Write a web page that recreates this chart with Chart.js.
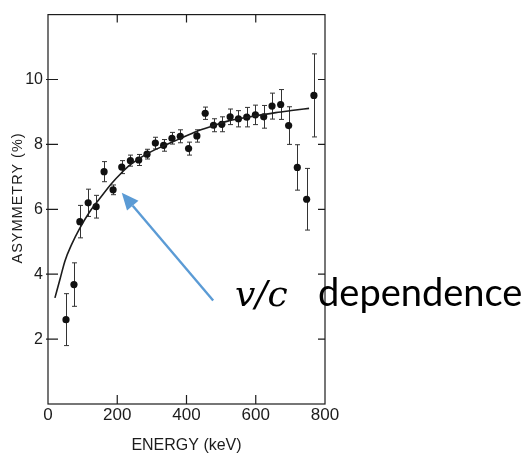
<!DOCTYPE html>
<html>
<head>
<meta charset="utf-8">
<script src="https://cdn.jsdelivr.net/npm/chart.js@4/dist/chart.umd.min.js"></script>
<style>
  html, body { margin: 0; padding: 0; background: #fff; }
  #wrap { width: 528px; height: 459px; position: relative; }
</style>
</head>
<body>
<div id="wrap"><canvas id="chart" width="528" height="459"></canvas></div>
<script>
// Measured asymmetry versus electron energy
const energy = [52, 75, 92, 116, 139, 162, 188, 213, 238, 262, 286, 310, 334, 358, 382,
                406, 430, 454, 478, 502, 526, 550, 574, 599, 623, 647, 672, 695, 720, 747, 768];
const asymmetry = [2.60, 3.68, 5.62, 6.20, 6.08, 7.16, 6.60, 7.30, 7.50, 7.52, 7.70, 8.04, 7.97, 8.19, 8.25,
                   7.87, 8.26, 8.96, 8.59, 8.62, 8.85, 8.79, 8.84, 8.91, 8.85, 9.18, 9.23, 8.58, 7.29, 6.31, 9.51];
const asymmetryErr = [0.80, 0.67, 0.50, 0.42, 0.35, 0.31, 0.15, 0.20, 0.17, 0.17, 0.15, 0.18, 0.18, 0.18, 0.20,
                      0.20, 0.19, 0.19, 0.20, 0.23, 0.24, 0.25, 0.30, 0.30, 0.35, 0.40, 0.46, 0.58, 0.70, 0.95, 1.28];

// Fitted v/c curve
const fitEnergy = [20, 35, 49, 68, 92, 121, 150, 183, 212, 236, 284, 333, 380, 429, 476, 526, 572, 658, 709, 754];
const fitAsymmetry = [3.27, 3.86, 4.41, 4.91, 5.42, 5.93, 6.34, 6.79, 7.12, 7.36, 7.70, 7.95, 8.17, 8.40, 8.57, 8.74, 8.83, 8.98, 9.05, 9.11];

// Axis ticks
const xTickValues = [0, 200, 400, 600, 800];
const yTickValues = [2, 4, 6, 8, 10];
const xInnerTicks = [200, 400, 600];

const INK = '#1c1c1c';

// Annotation anchored in data units (keV, %)
const note = {
  tip: [213, 6.51],
  tail: [477, 3.19],
  mathAt: [540, 3.03],
  wordAt: [780, 3.03],
  math: 'v/c',
  word: 'dependence',
  color: '#5b9bd5'
};

const points = energy.map((e, i) => ({ x: e, y: asymmetry[i] }));
const fitPoints = fitEnergy.map((e, i) => ({ x: e, y: fitAsymmetry[i] }));

const errorBars = {
  id: 'errorBars',
  beforeDatasetsDraw(chart) {
    const { ctx, scales: { x, y } } = chart;
    ctx.save();
    ctx.strokeStyle = '#333';
    ctx.lineWidth = 1;
    energy.forEach((e, i) => {
      const px = Math.round(x.getPixelForValue(e)) + 0.5;
      const top = y.getPixelForValue(asymmetry[i] + asymmetryErr[i]);
      const bot = y.getPixelForValue(asymmetry[i] - asymmetryErr[i]);
      ctx.beginPath();
      ctx.moveTo(px, top); ctx.lineTo(px, bot);
      ctx.moveTo(px - 2.5, top); ctx.lineTo(px + 2.5, top);
      ctx.moveTo(px - 2.5, bot); ctx.lineTo(px + 2.5, bot);
      ctx.stroke();
    });
    ctx.restore();
  }
};

const frame = {
  id: 'frame',
  afterDatasetsDraw(chart) {
    const { ctx, chartArea: a, scales: { x, y } } = chart;
    ctx.save();
    ctx.strokeStyle = INK;
    ctx.lineWidth = 1.2;
    ctx.strokeRect(a.left, a.top, a.right - a.left, a.bottom - a.top);
    ctx.beginPath();
    xInnerTicks.forEach(v => {
      const px = x.getPixelForValue(v);
      ctx.moveTo(px, a.bottom); ctx.lineTo(px, a.bottom - 9);
      ctx.moveTo(px, a.top); ctx.lineTo(px, a.top + 8);
    });
    yTickValues.forEach(v => {
      const py = y.getPixelForValue(v);
      ctx.moveTo(a.left - 2, py); ctx.lineTo(a.left + 10, py);
      ctx.moveTo(a.right, py); ctx.lineTo(a.right - 7, py);
    });
    ctx.stroke();

    // vertical axis title
    ctx.fillStyle = INK;
    ctx.font = '14.5px "Liberation Sans", Arial, sans-serif';
    ctx.letterSpacing = '1px';
    ctx.textAlign = 'center';
    ctx.textBaseline = 'middle';
    ctx.translate(18, y.getPixelForValue(6.35));
    ctx.rotate(-Math.PI / 2);
    ctx.fillText('ASYMMETRY (%)', 0, 0);
    ctx.restore();
  }
};

const annotation = {
  id: 'vcNote',
  afterDraw(chart) {
    const { ctx, scales: { x, y } } = chart;
    const tx = x.getPixelForValue(note.tip[0]), ty = y.getPixelForValue(note.tip[1]);
    const sx = x.getPixelForValue(note.tail[0]), sy = y.getPixelForValue(note.tail[1]);
    const ang = Math.atan2(ty - sy, tx - sx);
    const headLen = 17, headHalf = 7.5;
    const bx = tx - headLen * Math.cos(ang), by = ty - headLen * Math.sin(ang);
    ctx.save();
    ctx.strokeStyle = note.color;
    ctx.fillStyle = note.color;
    ctx.lineWidth = 2.4;
    ctx.beginPath();
    ctx.moveTo(sx, sy); ctx.lineTo(bx, by);
    ctx.stroke();
    ctx.beginPath();
    ctx.moveTo(tx, ty);
    ctx.lineTo(bx + headHalf * Math.sin(ang), by - headHalf * Math.cos(ang));
    ctx.lineTo(bx - headHalf * Math.sin(ang), by + headHalf * Math.cos(ang));
    ctx.closePath();
    ctx.fill();

    ctx.fillStyle = '#000';
    ctx.textBaseline = 'alphabetic';
    ctx.textAlign = 'left';
    ctx.font = 'italic 36px "DejaVu Serif", "Liberation Serif", serif';
    ctx.fillText(note.math, x.getPixelForValue(note.mathAt[0]), y.getPixelForValue(note.mathAt[1]));
    ctx.font = '38px Lato, "Open Sans", sans-serif';
    ctx.fillText(note.word, x.getPixelForValue(note.wordAt[0]), y.getPixelForValue(note.wordAt[1]));
    ctx.restore();
  }
};

new Chart(document.getElementById('chart'), {
  type: 'scatter',
  data: {
    datasets: [
      {
        label: 'v/c fit',
        data: fitPoints,
        showLine: true,
        borderColor: INK,
        borderWidth: 1.6,
        pointRadius: 0,
        cubicInterpolationMode: 'monotone',
        fill: false
      },
      {
        label: 'Asymmetry',
        data: points,
        pointRadius: 3.6,
        pointBackgroundColor: '#111',
        pointBorderColor: '#111',
        pointBorderWidth: 0
      }
    ]
  },
  options: {
    responsive: false,
    animation: false,
    events: [],
    layout: { padding: { top: 13, right: 203, left: 0, bottom: 0 } },
    plugins: { legend: { display: false }, tooltip: { enabled: false } },
    scales: {
      x: {
        type: 'linear',
        min: 0, max: 800,
        afterBuildTicks(scale) { scale.ticks = xTickValues.map(v => ({ value: v })); },
        afterFit(scale) { scale.height = 55; },
        grid: { display: false, drawTicks: false, tickLength: 0 },
        border: { display: false },
        ticks: {
          color: INK,
          padding: 1,
          maxRotation: 0,
          font: { family: '"Liberation Sans", Arial, sans-serif', size: 17 }
        },
        title: {
          display: true,
          text: 'ENERGY (keV)',
          color: INK,
          padding: { top: 0, bottom: 4 },
          font: { family: '"Liberation Sans", Arial, sans-serif', size: 16 }
        }
      },
      y: {
        type: 'linear',
        min: 0, max: 12,
        afterBuildTicks(scale) { scale.ticks = yTickValues.map(v => ({ value: v })); },
        afterFit(scale) { scale.width = 48; },
        grid: { display: false, drawTicks: false, tickLength: 0 },
        border: { display: false },
        ticks: {
          color: INK,
          padding: 5,
          font: { family: '"Liberation Sans", Arial, sans-serif', size: 16 }
        }
      }
    }
  },
  plugins: [errorBars, frame, annotation]
});
</script>
</body>
</html>
